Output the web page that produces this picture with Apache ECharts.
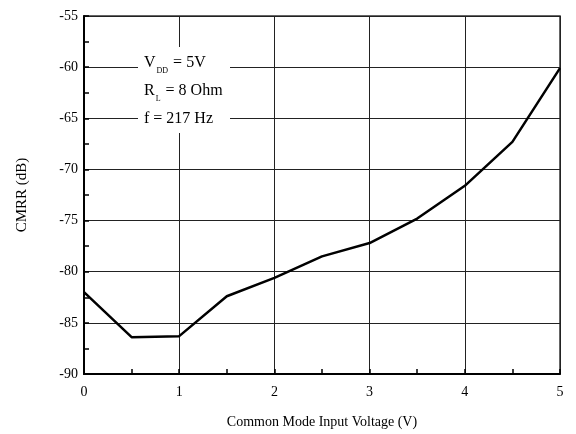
<!DOCTYPE html>
<html><head><meta charset="utf-8">
<script src="https://cdn.jsdelivr.net/npm/echarts@6/dist/echarts.min.js"></script>
<style>html,body{margin:0;padding:0;background:#fff}#c{width:576px;height:434px}</style>
</head><body><div id="c"></div>
<script>
const xValues = [0, 0.5, 1, 1.5, 2, 2.5, 3, 3.5, 4, 4.5, 5];
const cmrr = [-82.0, -86.4, -86.3, -82.4, -80.6, -78.5, -77.2, -74.8, -71.6, -67.3, -60.1];
const xTitle = 'Common Mode Input Voltage (V)';
const yTitle = 'CMRR (dB)';

const chart = echarts.init(document.getElementById('c'));
const font = 'Liberation Serif';
chart.setOption({
  animation: false,
  backgroundColor: '#fff',
  grid: {left: 84, right: 16, top: 16, bottom: 59, show: true, borderColor: '#333', borderWidth: 1.5},
  xAxis: {
    type: 'value', min: 0, max: 5, interval: 1,
    name: xTitle, nameLocation: 'middle', nameGap: 41,
    nameTextStyle: {fontFamily: font, fontSize: 14, color: '#000'},
    axisLine: {show: true, lineStyle: {color: '#000', width: 2}},
    axisTick: {show: true, inside: true, length: 5, lineStyle: {color: '#000', width: 1.5}},
    minorTick: {show: true, splitNumber: 2, length: 5, lineStyle: {color: '#000', width: 1.5}},
    splitLine: {show: true, lineStyle: {color: '#222', width: 1}},
    axisLabel: {fontFamily: font, fontSize: 14, color: '#000', margin: 11}
  },
  yAxis: {
    type: 'value', min: -90, max: -55, interval: 5,
    name: yTitle, nameLocation: 'middle', nameGap: 54, nameRotate: 90,
    nameTextStyle: {fontFamily: font, fontSize: 15, color: '#000'},
    axisLine: {show: true, lineStyle: {color: '#000', width: 2}},
    axisTick: {show: true, inside: true, length: 5, lineStyle: {color: '#000', width: 1.5}},
    minorTick: {show: true, splitNumber: 2, length: 5, lineStyle: {color: '#000', width: 1.5}},
    splitLine: {show: true, lineStyle: {color: '#222', width: 1}},
    axisLabel: {fontFamily: font, fontSize: 14, color: '#000', margin: 6}
  },
  series: [{
    type: 'line', data: xValues.map((x, i) => [x, cmrr[i]]),
    showSymbol: false, lineStyle: {color: '#000', width: 2.5}, z: 5
  }],
  graphic: [
    {type: 'rect', shape: {x: 138, y: 47, width: 92, height: 86}, style: {fill: '#fff'}, z: 10},
    {type: 'text', left: 144, top: 55, z: 11, style: {
      text: '{m|V}{s|DD}{m| = 5V}\n{m|R}{s|L}{m| = 8 Ohm}\n{m|f = 217 Hz}',
      rich: {
        m: {fontFamily: font, fontSize: 16, fill: '#000', lineHeight: 27.7, verticalAlign: 'bottom'},
        s: {fontFamily: font, fontSize: 8, fill: '#000', lineHeight: 27.7, verticalAlign: 'bottom', padding: [0, 1, -4, 1]}
      }
    }}
  ]
});
</script></body></html>
